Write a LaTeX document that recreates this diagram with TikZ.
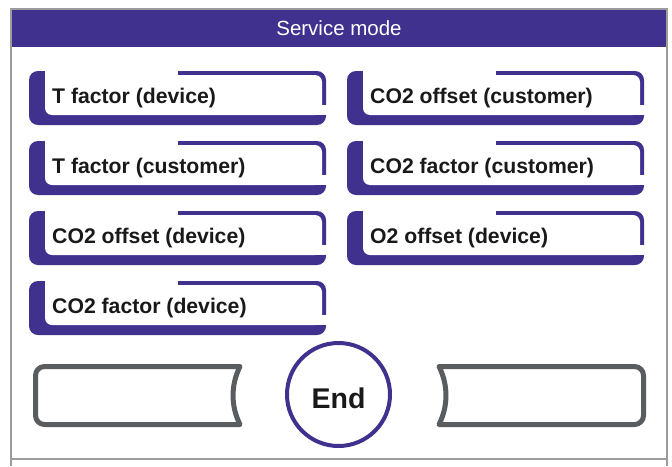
\documentclass[tikz,border=0pt]{standalone}
\usepackage{fontspec}
\setmainfont{Liberation Sans}
\definecolor{hdrpurple}{HTML}{40318F}
\definecolor{btngray}{HTML}{5A5D60}
\definecolor{framegray}{HTML}{9C9C9C}
\tikzset{
  btntext/.style={anchor=base west, inner sep=0pt, font=\fontsize{21.2}{24}\selectfont\bfseries, text=black!90},
  pics/purplebtn/.style={code={
    \fill[hdrpurple, rounded corners=9] (0,0) rectangle (297,54);
    \fill[white, rounded corners=7] (16,4) rectangle (293,44);
    \fill[white] (16,-1) rectangle (149,12);
    \fill[white] (285,34) rectangle (300,44);
  }},
  graybox/.style={draw=btngray, line width=5pt, line join=round}
}
\begin{document}
\begin{tikzpicture}[x=1pt,y=-1pt]
\useasboundingbox (0,0) rectangle (672,466);
\fill[white] (0,0) rectangle (672,466);
% frame
\fill[hdrpurple] (11,9) rectangle (667,46.5);
\draw[framegray, line width=2pt] (11,466) -- (11,9) -- (667,9) -- (667,466);
\draw[framegray, line width=2pt] (11,459) -- (667,459);
\node[anchor=base, inner sep=0pt, text=white, font=\fontsize{20.5}{24}\selectfont] (title) at (339,35) {Service mode};
% buttons
\pic at (29,71) {purplebtn};
\pic at (29,141) {purplebtn};
\pic at (29,211) {purplebtn};
\pic at (29,281) {purplebtn};
\pic at (347,71) {purplebtn};
\pic at (347,141) {purplebtn};
\pic at (347,211) {purplebtn};
\node[btntext] (b1) at (52,103) {T factor (device)};
\node[btntext] (b2) at (52,173) {T factor (customer)};
\node[btntext] (b3) at (52,243) {CO2 offset (device)};
\node[btntext] (b4) at (52,313) {CO2 factor (device)};
\node[btntext] (b5) at (370,103) {CO2 offset (customer)};
\node[btntext] (b6) at (370,173) {CO2 factor (customer)};
\node[btntext] (b7) at (370,243) {O2 offset (device)};
% bottom bar
\draw[graybox] (240,366.5) -- (44.5,366.5) arc[start angle=270, end angle=180, radius=9] -- (35.5,415.5) arc[start angle=180, end angle=90, radius=9] -- (240,424.5) .. controls (230.7,406) and (230.7,385) .. cycle;
\draw[graybox] (439,366.5) -- (634.5,366.5) arc[start angle=270, end angle=360, radius=9] -- (643.5,415.5) arc[start angle=0, end angle=90, radius=9] -- (439,424.5) .. controls (448.3,406) and (448.3,385) .. cycle;
\draw[hdrpurple, line width=4pt] (338.5,394.5) circle[radius=51.5];
\node[anchor=base, inner sep=0pt, font=\fontsize{28.5}{32}\selectfont\bfseries, text=black!90] (endbtn) at (338.5,408) {End};
\end{tikzpicture}
\end{document}
